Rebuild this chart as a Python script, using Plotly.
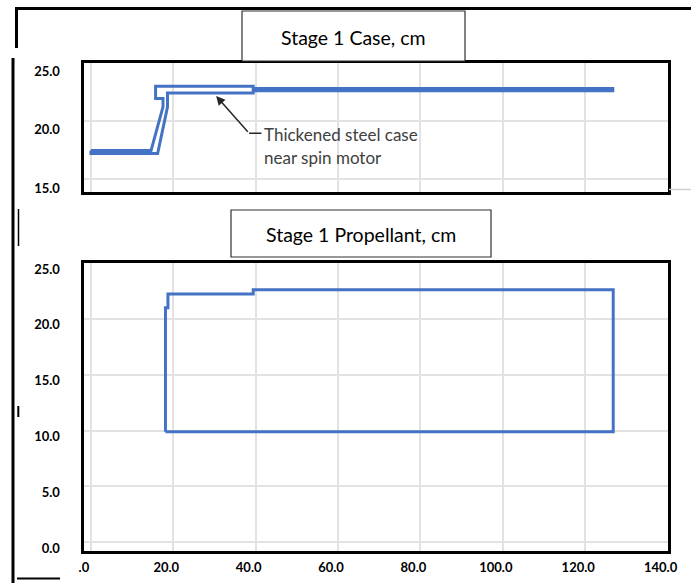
import plotly.graph_objects as go

# ---- data -------------------------------------------------------------
# Stage 1 case outline (outer surface then inner surface), cm
case_x = [0.0, 14.6, 17.5, 17.5, 15.7, 15.7, 39.4, 39.4, 126.7,
          126.7, 39.4, 39.4, 18.6, 18.6, 16.2, 0.0, 0.0]
case_y = [17.44, 17.44, 21.2, 21.92, 21.92, 22.96, 22.96, 22.78, 22.78,
          22.57, 22.57, 22.39, 22.39, 21.2, 17.19, 17.19, 17.44]

# Stage 1 propellant grain outline, cm
prop_x = [18.1, 18.1, 18.7, 18.7, 39.4, 39.4, 126.8, 126.8, 18.1]
prop_y = [9.9, 21.0, 21.0, 22.23, 22.23, 22.6, 22.6, 9.9, 9.9]

x_ticks = [0, 20, 40, 60, 80, 100, 120, 140]
x_tick_text = [".0", "20.0", "40.0", "60.0", "80.0", "100.0", "120.0", "140.0"]
case_y_ticks = [15, 20, 25]
prop_y_ticks = [0, 5, 10, 15, 20, 25]

W, H = 691, 583
BLUE = "#4472C4"
GRID = "#e2e2e2"
FONT = "Lato"


def fx(p):
    return p / W


def fy(p):
    return 1 - p / H


fig = go.Figure()
fig.add_trace(go.Scatter(x=case_x, y=case_y, mode="lines",
                         line=dict(color=BLUE, width=3),
                         xaxis="x", yaxis="y", hoverinfo="skip",
                         showlegend=False))
fig.add_trace(go.Scatter(x=prop_x, y=prop_y, mode="lines",
                         line=dict(color=BLUE, width=3),
                         xaxis="x2", yaxis="y2", hoverinfo="skip",
                         showlegend=False))

tickfont = dict(family=FONT, size=13, color="black", weight="bold")
box = dict(showline=True, mirror=True, linecolor="black", linewidth=3,
           zeroline=False, showgrid=True, gridcolor=GRID, gridwidth=1.5,
           ticks="", automargin=False)

x_dom = [fx(83.5), fx(668)]
fig.update_layout(
    width=W, height=H,
    margin=dict(l=0, r=0, t=0, b=0, pad=0, autoexpand=False),
    paper_bgcolor="white", plot_bgcolor="white",
    showlegend=False,
    xaxis=dict(domain=x_dom, range=[-1.8, 140.1], tickvals=x_ticks,
               showticklabels=False, anchor="y", **box),
    yaxis=dict(domain=[fy(192), fy(62.5)], range=[13.89, 25.0],
               tickvals=case_y_ticks, tickformat=".1f", tickfont=tickfont,
               ticklabelshift=9, ticklabelstandoff=18, anchor="x", **box),
    xaxis2=dict(domain=x_dom, range=[-1.8, 140.1], tickvals=x_ticks,
                ticktext=x_tick_text, tickfont=tickfont,
                ticklabelshift=-7, ticklabelstandoff=2, anchor="y2", **box),
    yaxis2=dict(domain=[fy(551), fy(263)], range=[-0.78, 25.0],
                tickvals=prop_y_ticks, tickformat=".1f", tickfont=tickfont,
                ticklabelshift=6, ticklabelstandoff=18, anchor="x2", **box),
)

shapes = []


def seg(x0, y0, x1, y1, width=3, color="black"):
    shapes.append(dict(type="line", xref="paper", yref="paper",
                       x0=fx(x0), y0=fy(y0), x1=fx(x1), y1=fy(y1),
                       line=dict(color=color, width=width)))


# outer frame pieces
seg(15, 8.5, 691, 8.5, 3)
seg(16.5, 8, 16.5, 48, 3)
seg(13, 58, 13, 583, 3)
seg(18.5, 209, 18.5, 246, 1.5)
seg(18.3, 406, 18.3, 417, 2)
seg(17, 578.5, 60, 578.5, 2)
seg(669, 189.5, 691, 189.5, 1.5, "#d0d0d0")

# title boxes
for (x0, y0, x1, y1) in [(242, 11, 465, 61), (231, 210, 491, 257)]:
    shapes.append(dict(type="rect", xref="paper", yref="paper",
                       x0=fx(x0), y0=fy(y1), x1=fx(x1), y1=fy(y0),
                       line=dict(color="#303030", width=1.2),
                       fillcolor="white"))

# leader elbow of the callout
shapes.append(dict(type="line", xref="x", yref="y",
                   x0=38.4, y0=18.94, x1=41.4, y1=18.94,
                   line=dict(color="#262626", width=1.5)))
fig.update_layout(shapes=shapes)

ann = [
    dict(xref="paper", yref="paper", x=fx(353.5), y=fy(37), text="Stage 1 Case, cm",
         showarrow=False, font=dict(family=FONT, size=19.5, color="black"),
         xanchor="center", yanchor="middle"),
    dict(xref="paper", yref="paper", x=fx(361), y=fy(234),
         text="Stage 1 Propellant, cm", showarrow=False,
         font=dict(family=FONT, size=19.5, color="black"),
         xanchor="center", yanchor="middle"),
    dict(xref="x", yref="y", x=30.4, y=22.13, axref="x", ayref="y",
         ax=38.4, ay=18.94, text="", showarrow=True, arrowhead=2,
         arrowsize=1.2, arrowwidth=1.5, arrowcolor="#262626"),
    dict(xref="x", yref="y", x=41.6, y=18.85, text="Thickened steel case",
         showarrow=False, font=dict(family=FONT, size=17, color="#404040"),
         xanchor="left", yanchor="middle"),
    dict(xref="x", yref="y", x=41.6, y=16.87, text="near spin motor",
         showarrow=False, font=dict(family=FONT, size=17, color="#404040"),
         xanchor="left", yanchor="middle"),
]
fig.update_layout(annotations=ann)

fig.write_html("out.html")
